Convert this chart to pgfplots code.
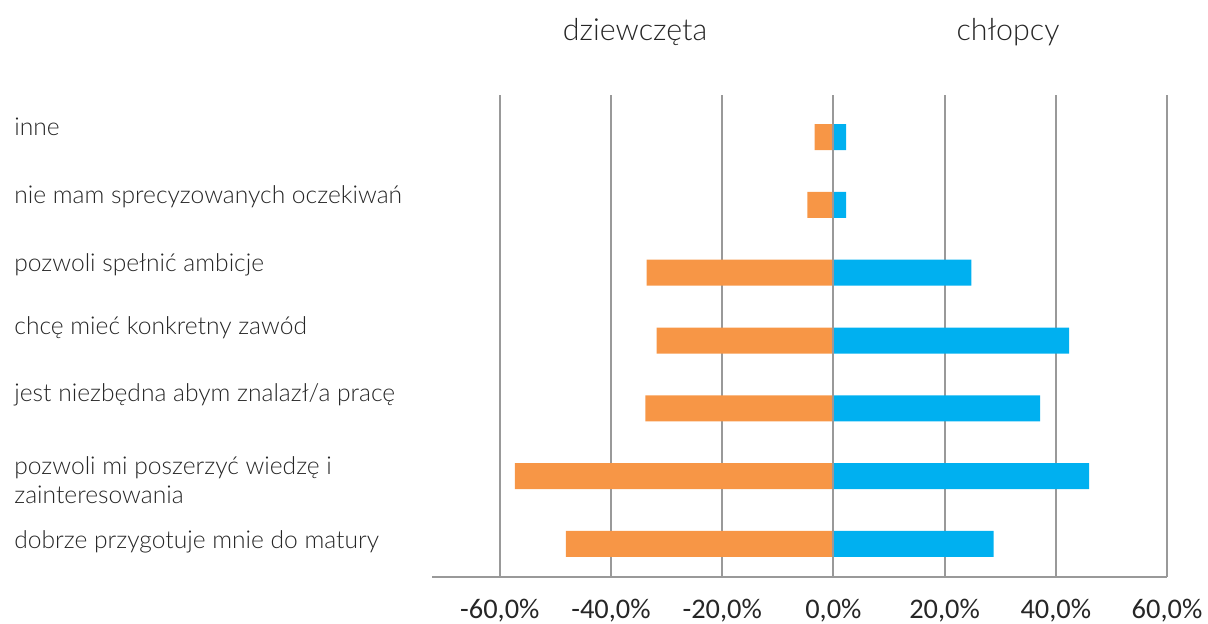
\documentclass[border=0pt]{standalone}
\usepackage{fontspec}
\setmainfont{Lato Light}
\newfontfamily\tickfont{Carlito}
\usepackage{pgfplots}
\pgfplotsset{compat=1.18}
\definecolor{girls}{HTML}{F79646}
\definecolor{boys}{HTML}{00B0F0}
\definecolor{gridgray}{HTML}{999999}
\definecolor{txt}{HTML}{262626}

\begin{document}
\begin{tikzpicture}
\path[use as bounding box] (0,0) rectangle (604pt,312pt);
\begin{axis}[
    at={(216pt,23.5pt)}, anchor=south west,
    scale only axis,
    width=367.5pt, height=241pt,
    xbar, bar width=13pt, bar shift=0pt,
    xmin=-72.2, xmax=60,
    ymin=-0.487, ymax=6.62,
    axis x line*=bottom, axis y line*=left,
    x axis line style={gridgray, line width=1pt},
    y axis line style={draw=none},
    xtick={-60,-40,-20,0,20,40,60},
    xmajorgrids, major grid style={gridgray, line width=1pt},
    major tick length=0pt,
    xticklabel={\pgfmathprintnumber{\tick}\%},
    /pgf/number format/.cd, fixed, fixed zerofill, precision=1, use comma, assume math mode=true,
    /pgfplots/.cd,
    xticklabel style={font=\tickfont\fontsize{14.2}{16}\selectfont, text=txt, yshift=-7.5pt},
    ytick={0.029,0.944,2.197,3.184,4.113,5.116,6.148},
    yticklabels={dobrze przygotuje mnie do matury,
        {pozwoli mi poszerzyć wiedzę i\\zainteresowania},
        jest niezbędna abym znalazł/a pracę,
        chcę mieć konkretny zawód,
        pozwoli spełnić ambicje,
        nie mam sprecyzowanych oczekiwań,
        inne},
    yticklabel style={anchor=west, align=left, inner sep=0pt, xshift=-209pt,
        font=\fontsize{12.3}{14.5}\selectfont, text=txt},
]
\addplot[draw=none, fill=girls] coordinates {
    (-48.1,0) (-57.3,1) (-33.8,2) (-31.8,3) (-33.6,4) (-4.7,5) (-3.4,6)};
\addplot[draw=none, fill=boys] coordinates {
    (28.8,0) (46.0,1) (37.2,2) (42.4,3) (24.8,4) (2.3,5) (2.3,6)};
\draw[gridgray, line width=1pt] (axis cs:0,-0.487) -- (axis cs:0,6.62);
\end{axis}
\node[font=\fontsize{15.2}{17}\selectfont, text=txt] at (317.5pt,296pt) {dziewczęta};
\node[font=\fontsize{15.2}{17}\selectfont, text=txt] at (504pt,296pt) {chłopcy};
\end{tikzpicture}
\end{document}
